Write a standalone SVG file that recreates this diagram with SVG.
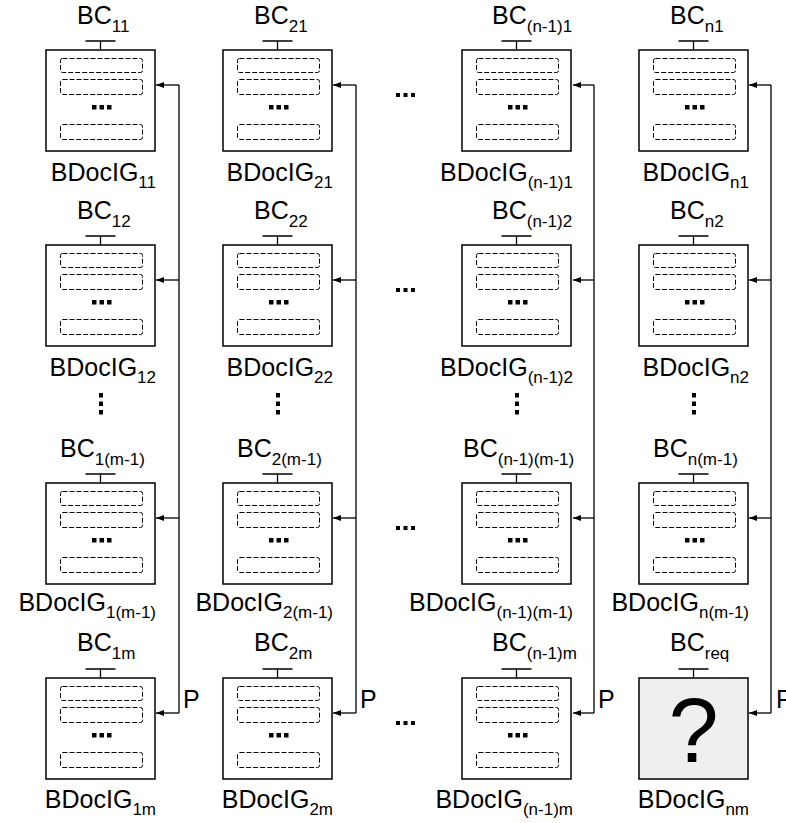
<svg xmlns="http://www.w3.org/2000/svg" xmlns:xlink="http://www.w3.org/1999/xlink" width="786" height="823" viewBox="0 0 786 823">
  <style>
    text { font-family: "Liberation Sans", Arial, sans-serif; fill: #000; }
    .lbl { font-size: 25px; }
    .sub { font-size: 17px; }
    .end { text-anchor: end; }
    .frame { fill: #fff; stroke: #000; stroke-width: 1.5; }
    .frame-q { fill: #efefef; stroke: #000; stroke-width: 1.5; }
    .slot { fill: none; stroke: #000; stroke-width: 1; stroke-dasharray: 5 2; }
    .stem { stroke: #000; stroke-width: 1.3; fill: none; }
    .wire { stroke: #000; stroke-width: 1.3; fill: none; }
    .arrow { stroke: #000; stroke-width: 1.3; fill: none; marker-end: url(#head); }
    .dot { fill: #000; }
  </style>
  <defs>
    <marker id="head" markerWidth="8" markerHeight="6" refX="8" refY="3" orient="auto" markerUnits="userSpaceOnUse">
      <path d="M0,0 L8,3 L0,6 Z" fill="#000"/>
    </marker>
    <!-- document block: frame, dashed slots, ellipsis and top stub -->
    <g id="doc">
      <path class="stem" d="M39.5,-9 H69.5 M54.5,-9 V0"/>
      <rect class="frame" x="0" y="0" width="109" height="101"/>
      <rect class="slot" x="14.5" y="8.5" width="82" height="14" rx="2"/>
      <rect class="slot" x="14.5" y="29.5" width="82" height="15" rx="2"/>
      <rect class="dot" x="46" y="55" width="4.5" height="4.5"/>
      <rect class="dot" x="53.5" y="55" width="4.5" height="4.5"/>
      <rect class="dot" x="61" y="55" width="4.5" height="4.5"/>
      <rect class="slot" x="14.5" y="74.5" width="82" height="15" rx="2"/>
    </g>
    <g id="hdots">
      <rect class="dot" x="0" y="0" width="4" height="4"/>
      <rect class="dot" x="7.5" y="0" width="4" height="4"/>
      <rect class="dot" x="15" y="0" width="4" height="4"/>
    </g>
    <g id="vdots">
      <rect class="dot" x="-2" y="0" width="4" height="4.5"/>
      <rect class="dot" x="-2" y="8.5" width="4" height="4.5"/>
      <rect class="dot" x="-2" y="17" width="4" height="4.5"/>
    </g>
  </defs>

  <!-- connectors -->
  <g id="connectors">
    <path class="wire" d="M179,85 V713"/>
    <path class="arrow" d="M179,85 H156"/>
    <path class="arrow" d="M179,280 H156"/>
    <path class="arrow" d="M179,518 H156"/>
    <path class="arrow" d="M179,713 H156"/>
    <text class="lbl" x="183" y="708">P</text>

    <path class="wire" d="M356,85 V713"/>
    <path class="arrow" d="M356,85 H333"/>
    <path class="arrow" d="M356,280 H333"/>
    <path class="arrow" d="M356,518 H333"/>
    <path class="arrow" d="M356,713 H333"/>
    <text class="lbl" x="360" y="708">P</text>

    <path class="wire" d="M594,85 V713"/>
    <path class="arrow" d="M594,85 H573"/>
    <path class="arrow" d="M594,280 H573"/>
    <path class="arrow" d="M594,518 H573"/>
    <path class="arrow" d="M594,713 H573"/>
    <text class="lbl" x="598" y="708">P</text>

    <path class="wire" d="M771,85 V713"/>
    <path class="arrow" d="M771,85 H749"/>
    <path class="arrow" d="M771,280 H749"/>
    <path class="arrow" d="M771,518 H749"/>
    <path class="arrow" d="M771,713 H749"/>
    <text class="lbl" x="776" y="708">P</text>
  </g>

  <!-- row 1 -->
  <g id="n-1-1">
    <use xlink:href="#doc" x="46" y="50"/>
    <text class="lbl" x="77" y="24">BC<tspan class="sub" dy="7.5">11</tspan></text>
    <text class="lbl end" x="156" y="181">BDocIG<tspan class="sub" dy="7">11</tspan></text>
  </g>
  <g id="n-2-1">
    <use xlink:href="#doc" x="223" y="50"/>
    <text class="lbl" x="254" y="24">BC<tspan class="sub" dy="7.5">21</tspan></text>
    <text class="lbl end" x="333" y="181">BDocIG<tspan class="sub" dy="7">21</tspan></text>
  </g>
  <g id="n-n1-1">
    <use xlink:href="#doc" x="462" y="50"/>
    <text class="lbl" x="492" y="24">BC<tspan class="sub" dy="7.5">(n-1)1</tspan></text>
    <text class="lbl end" x="573" y="181">BDocIG<tspan class="sub" dy="7">(n-1)1</tspan></text>
  </g>
  <g id="n-n-1">
    <use xlink:href="#doc" x="639" y="50"/>
    <text class="lbl" x="670" y="24">BC<tspan class="sub" dy="7.5">n1</tspan></text>
    <text class="lbl end" x="749" y="181">BDocIG<tspan class="sub" dy="7">n1</tspan></text>
  </g>

  <!-- row 2 -->
  <g id="n-1-2">
    <use xlink:href="#doc" x="46" y="245"/>
    <text class="lbl" x="77" y="219">BC<tspan class="sub" dy="7.5">12</tspan></text>
    <text class="lbl end" x="156" y="376">BDocIG<tspan class="sub" dy="7">12</tspan></text>
  </g>
  <g id="n-2-2">
    <use xlink:href="#doc" x="223" y="245"/>
    <text class="lbl" x="254" y="219">BC<tspan class="sub" dy="7.5">22</tspan></text>
    <text class="lbl end" x="333" y="376">BDocIG<tspan class="sub" dy="7">22</tspan></text>
  </g>
  <g id="n-n1-2">
    <use xlink:href="#doc" x="462" y="245"/>
    <text class="lbl" x="492" y="219">BC<tspan class="sub" dy="7.5">(n-1)2</tspan></text>
    <text class="lbl end" x="573" y="376">BDocIG<tspan class="sub" dy="7">(n-1)2</tspan></text>
  </g>
  <g id="n-n-2">
    <use xlink:href="#doc" x="639" y="245"/>
    <text class="lbl" x="670" y="219">BC<tspan class="sub" dy="7.5">n2</tspan></text>
    <text class="lbl end" x="749" y="376">BDocIG<tspan class="sub" dy="7">n2</tspan></text>
  </g>

  <!-- vertical ellipses between row 2 and row m-1 -->
  <g id="gap-rows">
    <use xlink:href="#vdots" x="101" y="393"/>
    <use xlink:href="#vdots" x="278" y="393"/>
    <use xlink:href="#vdots" x="517" y="393"/>
    <use xlink:href="#vdots" x="694" y="393"/>
  </g>

  <!-- row m-1 -->
  <g id="n-1-m1">
    <use xlink:href="#doc" x="46" y="483"/>
    <text class="lbl" x="60" y="457">BC<tspan class="sub" dy="7.5">1(m-1)</tspan></text>
    <text class="lbl end" x="156" y="611">BDocIG<tspan class="sub" dy="7">1(m-1)</tspan></text>
  </g>
  <g id="n-2-m1">
    <use xlink:href="#doc" x="223" y="483"/>
    <text class="lbl" x="237" y="457">BC<tspan class="sub" dy="7.5">2(m-1)</tspan></text>
    <text class="lbl end" x="333" y="611">BDocIG<tspan class="sub" dy="7">2(m-1)</tspan></text>
  </g>
  <g id="n-n1-m1">
    <use xlink:href="#doc" x="462" y="483"/>
    <text class="lbl" x="463" y="457">BC<tspan class="sub" dy="7.5">(n-1)(m-1)</tspan></text>
    <text class="lbl end" x="573" y="611">BDocIG<tspan class="sub" dy="7">(n-1)(m-1)</tspan></text>
  </g>
  <g id="n-n-m1">
    <use xlink:href="#doc" x="639" y="483"/>
    <text class="lbl" x="653" y="457">BC<tspan class="sub" dy="7.5">n(m-1)</tspan></text>
    <text class="lbl end" x="749" y="611">BDocIG<tspan class="sub" dy="7">n(m-1)</tspan></text>
  </g>

  <!-- row m -->
  <g id="n-1-m">
    <use xlink:href="#doc" x="46" y="678"/>
    <text class="lbl" x="77" y="651">BC<tspan class="sub" dy="7.5">1m</tspan></text>
    <text class="lbl end" x="156" y="808">BDocIG<tspan class="sub" dy="7">1m</tspan></text>
  </g>
  <g id="n-2-m">
    <use xlink:href="#doc" x="223" y="678"/>
    <text class="lbl" x="254" y="651">BC<tspan class="sub" dy="7.5">2m</tspan></text>
    <text class="lbl end" x="333" y="808">BDocIG<tspan class="sub" dy="7">2m</tspan></text>
  </g>
  <g id="n-n1-m">
    <use xlink:href="#doc" x="462" y="678"/>
    <text class="lbl" x="492" y="651">BC<tspan class="sub" dy="7.5">(n-1)m</tspan></text>
    <text class="lbl end" x="573" y="808">BDocIG<tspan class="sub" dy="7">(n-1)m</tspan></text>
  </g>
  <g id="n-n-m">
    <path class="stem" d="M678.5,669 H708.5 M693.5,669 V678"/>
    <rect class="frame-q" x="639" y="678" width="109" height="101"/>
    <text x="693.5" y="762" text-anchor="middle" font-size="90">?</text>
    <text class="lbl" x="670" y="651">BC<tspan class="sub" dy="7.5">req</tspan></text>
    <text class="lbl end" x="749" y="808">BDocIG<tspan class="sub" dy="7">nm</tspan></text>
  </g>

  <!-- horizontal ellipses between column 2 and column n-1 -->
  <g id="gap-cols">
    <use xlink:href="#hdots" x="396" y="93"/>
    <use xlink:href="#hdots" x="396" y="288"/>
    <use xlink:href="#hdots" x="396" y="526"/>
    <use xlink:href="#hdots" x="396" y="721"/>
  </g>
</svg>
